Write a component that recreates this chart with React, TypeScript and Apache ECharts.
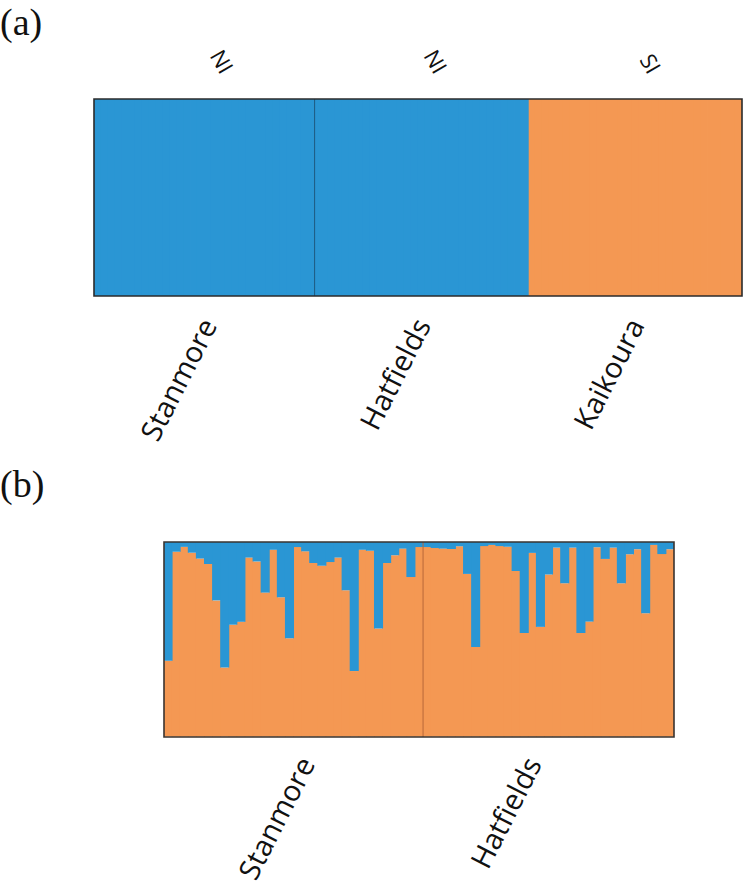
import React, { useEffect, useRef } from 'react';
import * as echarts from 'echarts';

// ---------- data ----------
// Panel (a): population names, island codes, blue-cluster membership per individual
const groupsA = ['Stanmore', 'Hatfields', 'Kaikoura'];
const regionsA = ['NI', 'NI', 'SI'];
const aStanmoreBlue = [1, 1, 1, 1, 1, 1, 1, 1, 1, 1, 1, 1, 1, 1, 1, 1, 1, 1, 1, 1, 1, 1, 1, 1, 1, 1, 1, 1, 1, 1, 1, 1];
const aHatfieldsBlue = [1, 1, 1, 1, 1, 1, 1, 1, 1, 1, 1, 1, 1, 1, 1, 1, 1, 1, 1, 1, 1, 1, 1, 1, 1, 1, 1, 1, 1, 1, 1];
const aKaikouraBlue = [0, 0, 0, 0, 0, 0, 0, 0, 0, 0, 0, 0, 0, 0, 0, 0, 0, 0, 0, 0, 0, 0, 0, 0, 0, 0, 0, 0, 0, 0, 0];

// Panel (b): orange-cluster membership per individual
const groupsB = ['Stanmore', 'Hatfields'];
const bStanmoreOrange = [0.39, 0.95, 0.975, 0.945, 0.915, 0.887, 0.70, 0.355, 0.575, 0.59, 0.92, 0.90, 0.74, 0.96, 0.716, 0.506,
  0.974, 0.952, 0.892, 0.878, 0.897, 0.92, 0.752, 0.337, 0.96, 0.955, 0.555, 0.892, 0.932, 0.966, 0.82, 0.974];
const bHatfieldsOrange = [0.974, 0.969, 0.966, 0.964, 0.978, 0.836, 0.46, 0.979, 0.985, 0.979, 0.976, 0.851, 0.533, 0.944, 0.564, 0.833,
  0.971, 0.788, 0.971, 0.532, 0.591, 0.973, 0.913, 0.971, 0.788, 0.937, 0.963, 0.634, 0.985, 0.938, 0.963];

// ---------- styles ----------
const BLUE = '#2a96d4';
const ORANGE = '#f49853';
const FONT = "'Open Sans', 'Noto Sans', sans-serif";

export default function App() {
  const ref = useRef<HTMLDivElement>(null);

  useEffect(() => {
    document.body.style.margin = '0';
    if (!ref.current) return;
    const chart = echarts.init(ref.current, undefined, { renderer: 'svg' });

    // Panel (a) individuals
    const aGroups = [aStanmoreBlue, aHatfieldsBlue, aKaikouraBlue];
    const idsA: string[] = [];
    const blueA: number[] = [];
    const orangeA: number[] = [];
    const labelIdxA: Record<number, number> = {};
    const topIdxA: Record<number, number> = {};
    let off = 0;
    aGroups.forEach((arr, g) => {
      labelIdxA[off + Math.floor(arr.length / 2)] = g;
      topIdxA[off + Math.floor(arr.length / 2) + 3] = g;
      arr.forEach((v, i) => {
        idsA.push(groupsA[g] + ' ' + (i + 1));
        blueA.push(v);
        orangeA.push(1 - v);
      });
      off += arr.length;
    });

    // Panel (b) individuals
    const bGroups = [bStanmoreOrange, bHatfieldsOrange];
    const idsB: string[] = [];
    const blueB: number[] = [];
    const orangeB: number[] = [];
    const labelIdxB: Record<number, number> = {};
    off = 0;
    bGroups.forEach((arr, g) => {
      labelIdxB[off + Math.floor(arr.length / 2) + (g === 0 ? 1 : -2)] = g;
      arr.forEach((v, i) => {
        idsB.push(groupsB[g] + ' ' + (i + 1));
        orangeB.push(v);
        blueB.push(+(1 - v).toFixed(3));
      });
      off += arr.length;
    });

    const gA = { left: 94, top: 99, width: 648, height: 197 };
    const gB = { left: 164, top: 542, width: 510, height: 195 };

    const divA = gA.left + (gA.width * aStanmoreBlue.length) / idsA.length;
    const divB = gB.left + (gB.width * bStanmoreOrange.length) / idsB.length;

    const labelStyle = {
      rotate: 63,
      fontSize: 29,
      color: '#111',
      fontFamily: FONT,
    };

    const bar = (xi: number, yi: number, stack: string, data: number[], color: string) => ({
      type: 'bar', xAxisIndex: xi, yAxisIndex: yi, stack, data,
      barCategoryGap: '-12%',
      itemStyle: { color },
    });

    const option: any = {
      animation: false,
      backgroundColor: '#ffffff',
      grid: [gA, gB],
      xAxis: [
        {
          gridIndex: 0,
          type: 'category',
          data: idsA,
          position: 'bottom',
          axisLine: { show: false },
          axisTick: { show: false },
          axisLabel: {
            ...labelStyle,
            margin: 24,
            interval: (i: number) => labelIdxA[i] !== undefined,
            formatter: (_v: string, i: number) => (labelIdxA[i] !== undefined ? groupsA[labelIdxA[i]] : ''),
          },
        },
        {
          gridIndex: 0,
          type: 'category',
          data: idsA,
          position: 'top',
          axisLine: { show: false },
          axisTick: { show: false },
          axisLabel: {
            ...labelStyle,
            rotate: 60,
            fontSize: 22,
            margin: 28,
            interval: (i: number) => topIdxA[i] !== undefined,
            formatter: (_v: string, i: number) => (topIdxA[i] !== undefined ? regionsA[topIdxA[i]] : ''),
          },
        },
        {
          gridIndex: 1,
          type: 'category',
          data: idsB,
          position: 'bottom',
          axisLine: { show: false },
          axisTick: { show: false },
          axisLabel: {
            ...labelStyle,
            margin: 22,
            interval: (i: number) => labelIdxB[i] !== undefined,
            formatter: (_v: string, i: number) => (labelIdxB[i] !== undefined ? groupsB[labelIdxB[i]] : ''),
          },
        },
      ],
      yAxis: [
        { gridIndex: 0, type: 'value', min: 0, max: 1, show: false },
        { gridIndex: 1, type: 'value', min: 0, max: 1, show: false },
      ],
      series: [
        bar(0, 0, 'a', orangeA, ORANGE),
        bar(0, 0, 'a', blueA, BLUE),
        bar(2, 1, 'b', orangeB, ORANGE),
        bar(2, 1, 'b', blueB, BLUE),
      ],
      graphic: [
        {
          type: 'line', z: 100,
          shape: { x1: divA, y1: gA.top, x2: divA, y2: gA.top + gA.height },
          style: { stroke: '#1d5a80', lineWidth: 1 },
        },
        {
          type: 'line', z: 100,
          shape: { x1: divB, y1: gB.top, x2: divB, y2: gB.top + gB.height },
          style: { stroke: '#b8693a', lineWidth: 1 },
        },
        {
          type: 'rect', z: 101,
          shape: { x: gA.left, y: gA.top, width: gA.width, height: gA.height },
          style: { fill: 'none', stroke: '#2b2b2b', lineWidth: 1.6 },
        },
        {
          type: 'rect', z: 101,
          shape: { x: gB.left, y: gB.top, width: gB.width, height: gB.height },
          style: { fill: 'none', stroke: '#3a3430', lineWidth: 1.6 },
        },
        {
          type: 'text', left: 0, top: 3, z: 101,
          style: { text: '(a)', fontSize: 38, fontFamily: "'Liberation Serif', 'DejaVu Serif', serif", fill: '#111' },
        },
        {
          type: 'text', left: 0, top: 465, z: 101,
          style: { text: '(b)', fontSize: 38, fontFamily: "'Liberation Serif', 'DejaVu Serif', serif", fill: '#111' },
        },
      ],
    };

    chart.setOption(option);
    return () => chart.dispose();
  }, []);

  return <div ref={ref} style={{ width: 745, height: 886 }} />;
}
